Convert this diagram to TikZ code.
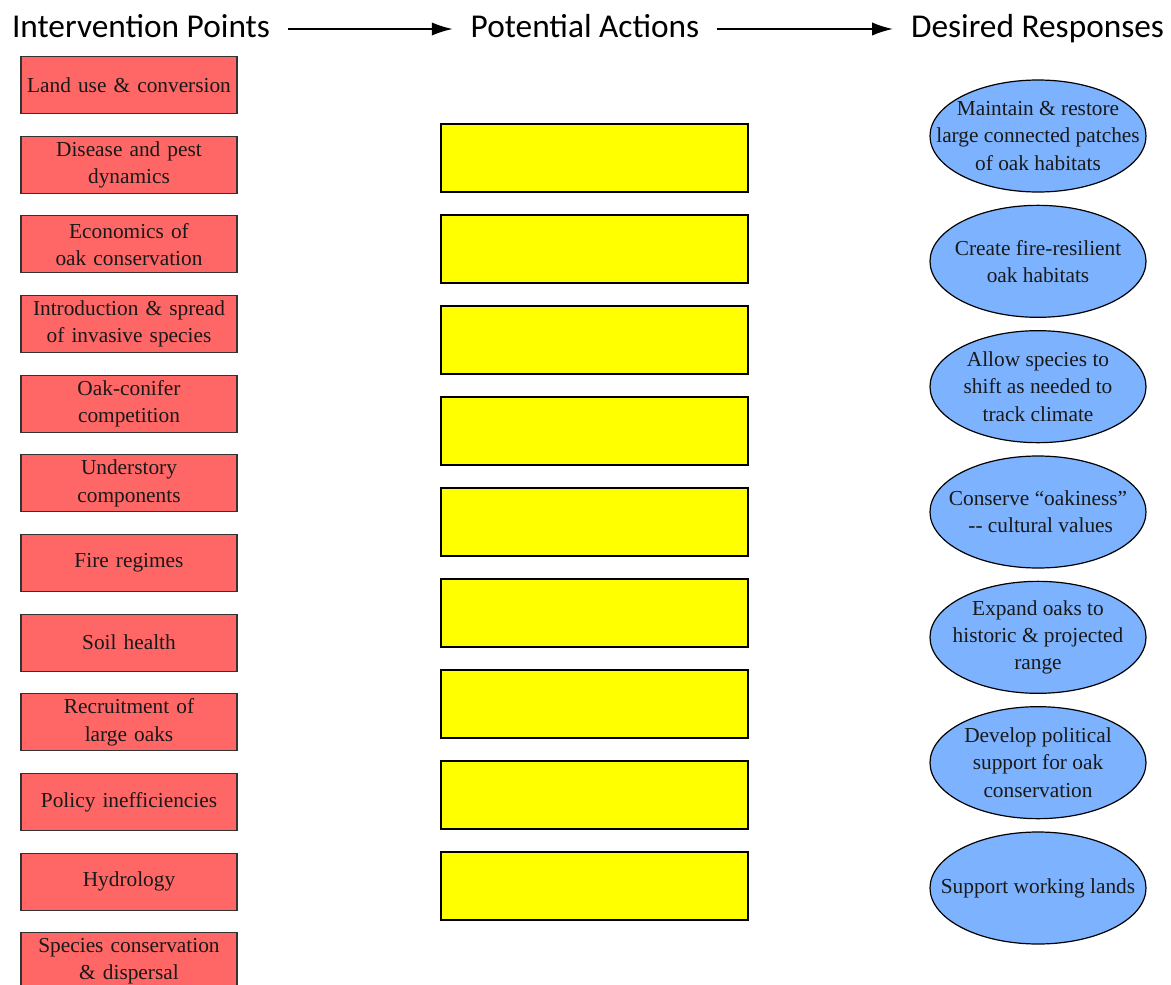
\documentclass[tikz,border=0pt]{standalone}
\usepackage{fontspec}
\setmainfont{Liberation Serif}
\newfontfamily\headfont{Carlito}
\usepackage{tikz}
\usetikzlibrary{arrows.meta}
\usetikzlibrary{shapes,positioning}
\definecolor{pointred}{RGB}{255,102,102}
\definecolor{actyellow}{RGB}{255,255,0}
\definecolor{respblue}{RGB}{125,178,255}
\tikzset{>={Latex[length=16pt, width=10pt]}}
\tikzset{head-node/.style={font=\headfont\fontsize{25}{30}\selectfont, inner xsep=13pt, inner ysep=0, text height=17pt, text depth=5pt}}
\tikzset{head-line/.style={line width=1.8pt}}
\tikzset{point-node/.style={draw=black!80, line width=0.9pt, fill=pointred, minimum width=162pt, minimum height=42.75pt, inner sep=0, outer sep=0, text width=158pt, align=center, text=black!90, font=\fontsize{16}{20.5}\selectfont}}
\tikzset{act-node/.style={draw=black, line width=0.9pt, fill=actyellow, minimum width=230.25pt, minimum height=51pt, inner sep=0, outer sep=0}}
\tikzset{resp-node/.style={ellipse, draw=black, line width=0.9pt, fill=respblue, minimum width=162pt, minimum height=84pt, inner sep=0, outer sep=0}}
\tikzset{resp-text/.style={align=center, inner sep=0, text=black!90, font=\fontsize{16}{20.5}\selectfont}}

\begin{document}
\begin{tikzpicture}[x=0.75pt, y=-0.75pt]
            \useasboundingbox (0,0) rectangle (1171,985);

            \node[head-node, anchor=base] (headpoints) at (141,37) {Intervention Points};
            \node[head-node, anchor=base] (headactions) at (585,37) {Potential Actions};
            \node[head-node, anchor=base] (headresponses) at (1037.5,37) {Desired Responses};

            \draw[->, head-line] (headpoints) -- (headactions);
            \draw[->, head-line] (headactions) -- (headresponses);

            \node[point-node] (point1) at (129,85) {Land use \& conversion};
            \node[point-node, below=17pt of point1] (point2) {Disease and pest\\dynamics};
            \node[point-node, below=17pt of point2] (point3) {Economics of\\oak conservation};
            \node[point-node, below=17pt of point3] (point4) {Introduction \& spread\\of invasive species};
            \node[point-node, below=17pt of point4] (point5) {Oak-conifer\\competition};
            \node[point-node, below=17pt of point5] (point6) {Understory\\components};
            \node[point-node, below=17pt of point6] (point7) {Fire regimes};
            \node[point-node, below=17pt of point7] (point8) {Soil health};
            \node[point-node, below=17pt of point8] (point9) {Recruitment of\\large oaks};
            \node[point-node, below=17pt of point9] (point10) {Policy inefficiencies};
            \node[point-node, below=17pt of point10] (point11) {Hydrology};
            \node[point-node, below=17pt of point11] (point12) {Species conservation\\\& dispersal};

            \node[act-node] (act1) at (594.5,158) {};
            \node[act-node, below=17.25pt of act1] (act2) {};
            \node[act-node, below=17.25pt of act2] (act3) {};
            \node[act-node, below=17.25pt of act3] (act4) {};
            \node[act-node, below=17.25pt of act4] (act5) {};
            \node[act-node, below=17.25pt of act5] (act6) {};
            \node[act-node, below=17.25pt of act6] (act7) {};
            \node[act-node, below=17.25pt of act7] (act8) {};
            \node[act-node, below=17.25pt of act8] (act9) {};

            \node[resp-node, label={[resp-text]center:{Maintain \& restore\\large connected patches\\of oak habitats}}] (resp1) at (1038,136) {};
            \node[resp-node, below=10pt of resp1, label={[resp-text]center:{Create fire-resilient\\oak habitats}}] (resp2) {};
            \node[resp-node, below=10pt of resp2, label={[resp-text]center:{Allow species to\\shift as needed to\\track climate}}] (resp3) {};
            \node[resp-node, below=10pt of resp3, label={[resp-text]center:{Conserve “oakiness”\\\ -{}- cultural values}}] (resp4) {};
            \node[resp-node, below=10pt of resp4, label={[resp-text]center:{Expand oaks to\\historic \& projected\\range}}] (resp5) {};
            \node[resp-node, below=10pt of resp5, label={[resp-text]center:{Develop political\\support for oak\\conservation}}] (resp6) {};
            \node[resp-node, below=10pt of resp6, label={[resp-text]center:{Support working lands}}] (resp7) {};
        \end{tikzpicture}
\end{document}
